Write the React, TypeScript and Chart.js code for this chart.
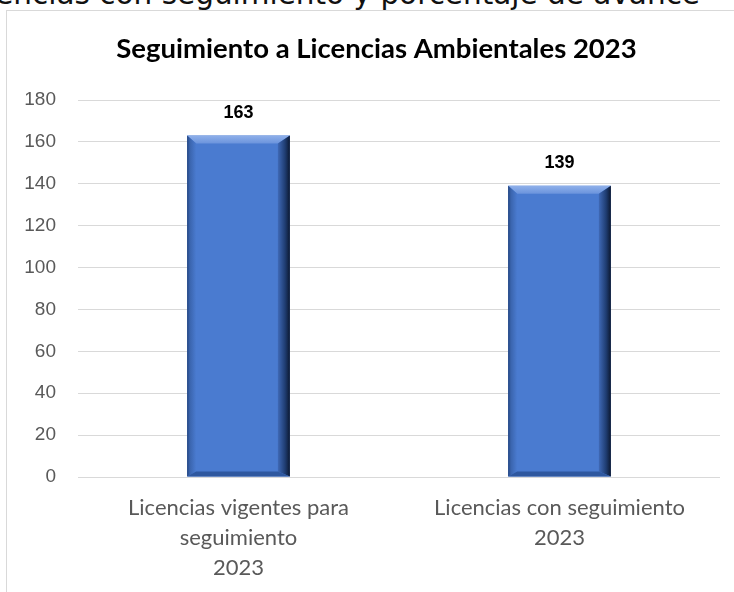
import React, { useEffect, useRef } from "react";
import { Chart, registerables } from "chart.js";

Chart.register(...registerables);

const pageHeading = "Licencias con seguimiento y porcentaje de avance";
const chartTitle = "Seguimiento a Licencias Ambientales 2023";
const categories: (string | string[])[] = [
  ["Licencias vigentes para", "seguimiento", "2023"],
  ["Licencias con seguimiento", "2023"],
];
const values = [163, 139];
const yTickMin = 0;
const yTickMax = 180;
const yTickStep = 20;

const NARROW = "'Liberation Sans Narrow', 'Arial Narrow', 'Liberation Sans', Arial, sans-serif";
const CAL = "Lato, 'Open Sans', sans-serif";

const titlePlugin = {
  id: "chartTitleText",
  afterDraw(chart: any) {
    const ctx = chart.ctx as CanvasRenderingContext2D;
    ctx.save();
    ctx.fillStyle = "#000000";
    ctx.font = `bold 27.5px ${CAL}`;
    ctx.textAlign = "center";
    ctx.textBaseline = "alphabetic";
    ctx.fillText(chartTitle, 376.5, 58);
    ctx.restore();
  },
};

const bevelPlugin = {
  id: "bevelBars",
  afterDatasetsDraw(chart: any) {
    const ctx = chart.ctx as CanvasRenderingContext2D;
    const meta = chart.getDatasetMeta(0);
    meta.data.forEach((el: any, i: number) => {
      const p = el.getProps(["x", "y", "base", "width"], true);
      const left = p.x - p.width / 2;
      const right = p.x + p.width / 2;
      const top = p.y;
      const bottom = p.base;
      const st = 8;
      const sl = 9;
      const sr = 12;
      const sb = 5;
      ctx.save();
      let g = ctx.createLinearGradient(0, top, 0, top + st);
      g.addColorStop(0, "#8fb0ea");
      g.addColorStop(1, "#6a93dc");
      ctx.fillStyle = g;
      ctx.beginPath();
      ctx.moveTo(left, top);
      ctx.lineTo(right, top);
      ctx.lineTo(right - sr, top + st);
      ctx.lineTo(left + sl, top + st);
      ctx.closePath();
      ctx.fill();
      g = ctx.createLinearGradient(left, 0, left + sl, 0);
      g.addColorStop(0, "#23447f");
      g.addColorStop(0.3, "#3a64ad");
      g.addColorStop(1, "#4a7bd0");
      ctx.fillStyle = g;
      ctx.beginPath();
      ctx.moveTo(left, top);
      ctx.lineTo(left + sl, top + st);
      ctx.lineTo(left + sl, bottom - sb);
      ctx.lineTo(left, bottom);
      ctx.closePath();
      ctx.fill();
      g = ctx.createLinearGradient(right - sr, 0, right, 0);
      g.addColorStop(0, "#3f69b6");
      g.addColorStop(0.6, "#1f3d72");
      g.addColorStop(1, "#0c1830");
      ctx.fillStyle = g;
      ctx.beginPath();
      ctx.moveTo(right, top);
      ctx.lineTo(right, bottom);
      ctx.lineTo(right - sr, bottom - sb);
      ctx.lineTo(right - sr, top + st);
      ctx.closePath();
      ctx.fill();
      ctx.fillStyle = "#2f589f";
      ctx.beginPath();
      ctx.moveTo(left, bottom);
      ctx.lineTo(right, bottom);
      ctx.lineTo(right - sr, bottom - sb);
      ctx.lineTo(left + sl, bottom - sb);
      ctx.closePath();
      ctx.fill();
      ctx.fillStyle = "#000000";
      ctx.font = `bold 18px ${NARROW}`;
      ctx.textAlign = "center";
      ctx.textBaseline = "middle";
      ctx.fillText(String(values[i]), p.x, top - 23);
      ctx.restore();
    });
  },
};

export default function App() {
  const canvasRef = useRef<HTMLCanvasElement | null>(null);

  useEffect(() => {
    if (!canvasRef.current) return;
    const chart = new Chart(canvasRef.current, {
      type: "bar",
      data: {
        labels: categories as any,
        datasets: [
          {
            data: values,
            backgroundColor: "#4a7bd0",
            borderWidth: 0,
            barPercentage: 0.64,
            categoryPercentage: 0.5,
          },
        ],
      },
      options: {
        animation: false,
        responsive: false,
        maintainAspectRatio: false,
        layout: { padding: { left: 0, right: 14, top: 100, bottom: 0 } },
        plugins: {
          legend: { display: false },
          tooltip: { enabled: false },
          title: { display: false },
        },
        scales: {
          x: {
            grid: { display: false, drawTicks: false },
            border: { display: false },
            ticks: {
              color: "#595959",
              padding: 16,
              font: { family: CAL, size: 22, lineHeight: 1.364 },
              maxRotation: 0,
              autoSkip: false,
            },
            afterFit: (s: any) => {
              s.height = 115;
            },
          },
          y: {
            min: yTickMin,
            max: yTickMax,
            grid: { color: "#d9d9d9", lineWidth: 1, drawTicks: false },
            border: { display: false },
            ticks: {
              stepSize: yTickStep,
              color: "#595959",
              padding: 22,
              font: { family: NARROW, size: 19 },
            },
            afterFit: (s: any) => {
              s.width = 78;
            },
          },
        },
      },
      plugins: [bevelPlugin, titlePlugin],
    });
    return () => chart.destroy();
  }, []);

  return (
    <div
      style={{
        position: "fixed",
        left: 0,
        top: 0,
        width: 734,
        height: 592,
        overflow: "hidden",
        background: "#ffffff",
      }}
    >
      <div
        style={{
          position: "absolute",
          right: 34,
          top: -20,
          whiteSpace: "nowrap",
          fontFamily: "'DejaVu Sans', sans-serif",
          fontSize: 29.5,
          lineHeight: "29.5px",
          color: "#111111",
        }}
      >
        {pageHeading}
      </div>
      <div
        style={{
          position: "absolute",
          left: 6,
          top: 10,
          width: 760,
          height: 620,
          borderLeft: "1px solid #d9d9d9",
          borderTop: "1px solid #d9d9d9",
        }}
      />
      <canvas
        ref={canvasRef}
        width={734}
        height={592}
        style={{ position: "absolute", left: 0, top: 0, width: 734, height: 592 }}
      />
    </div>
  );
}
